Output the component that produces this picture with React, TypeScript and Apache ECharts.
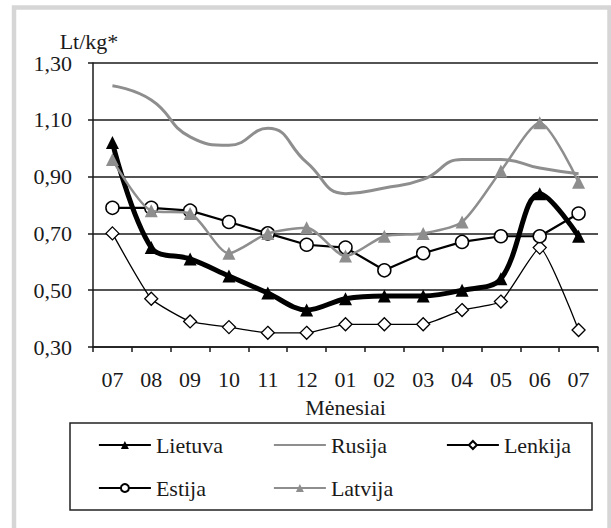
import React, { useEffect, useRef } from "react";
import * as echarts from "echarts";

const months = ["07", "08", "09", "10", "11", "12", "01", "02", "03", "04", "05", "06", "07"];
const yTicks = [0.3, 0.5, 0.7, 0.9, 1.1, 1.3];
const lietuva = [1.02, 0.65, 0.61, 0.55, 0.49, 0.43, 0.47, 0.48, 0.48, 0.5, 0.54, 0.84, 0.69];
const rusija = [1.22, 1.17, 1.04, 1.01, 1.07, 0.95, 0.84, 0.86, 0.89, 0.96, 0.96, 0.93, 0.91];
const lenkija = [0.7, 0.47, 0.39, 0.37, 0.35, 0.35, 0.38, 0.38, 0.38, 0.43, 0.46, 0.65, 0.36];
const estija = [0.79, 0.79, 0.78, 0.74, 0.7, 0.66, 0.65, 0.57, 0.63, 0.67, 0.69, 0.69, 0.77];
const latvija = [0.96, 0.78, 0.77, 0.63, 0.7, 0.72, 0.62, 0.69, 0.7, 0.74, 0.92, 1.09, 0.88];

const FONT = "'Liberation Serif', 'Times New Roman', serif";
const GRAY = "#8e8e8e";
const INK = "#1a1a1a";

export default function App() {
  const ref = useRef<HTMLDivElement>(null);
  useEffect(() => {
    if (!ref.current) return;
    const chart = echarts.init(ref.current, null, { renderer: "svg" });
    const legendText = { fontFamily: FONT, fontSize: 22, color: INK };
    const mkLegend = (item: any, left: number, top: number) => ({
      data: [item],
      left,
      top,
      padding: 0,
      itemWidth: 52,
      itemHeight: 10,
      textStyle: legendText,
      lineStyle: { width: 1.8 },
      selectedMode: false,
    });
    chart.setOption({
      animation: false,
      backgroundColor: "#ffffff",
      textStyle: { fontFamily: FONT },
      grid: { left: 93, right: 13, top: 63, bottom: 181, containLabel: false },
      legend: [
        mkLegend("Lietuva", 98, 434),
        mkLegend({ name: "Rusija", itemStyle: { opacity: 0 } }, 273, 434),
        mkLegend("Lenkija", 446, 434),
        mkLegend("Estija", 98, 477),
        mkLegend("Latvija", 273, 477),
      ],
      graphic: [
        {
          type: "rect",
          shape: { x: 14, y: 7.5, width: 595.5, height: 600 },
          style: { fill: "none", stroke: "#d6d6d6", lineWidth: 4.5 },
          silent: true,
        },
        {
          type: "rect",
          shape: { x: 70, y: 423, width: 522, height: 87 },
          style: { fill: "none", stroke: "#222", lineWidth: 1.5 },
          silent: true,
        },
      ],
      xAxis: {
        type: "category",
        data: months,
        boundaryGap: true,
        name: "Mėnesiai",
        nameLocation: "middle",
        nameGap: 49,
        nameTextStyle: { fontFamily: FONT, fontSize: 22, color: INK },
        axisLine: { lineStyle: { color: INK, width: 1.5 } },
        axisTick: { show: true, length: 5, alignWithLabel: false, lineStyle: { color: INK, width: 1.5 } },
        axisLabel: { fontFamily: FONT, fontSize: 22, color: INK, margin: 21, interval: 0 },
        splitLine: { show: false },
      },
      yAxis: {
        type: "value",
        min: 0.3,
        max: 1.3,
        name: "Lt/kg*",
        nameLocation: "end",
        nameGap: 10,
        nameTextStyle: { fontFamily: FONT, fontSize: 22, color: INK, align: "center", padding: [0, 8, 0, 0] },
        axisLine: { show: true, lineStyle: { color: INK, width: 1.5 } },
        axisTick: { show: true, length: 5, customValues: yTicks, lineStyle: { color: INK, width: 1.5 } },
        axisLabel: {
          fontFamily: FONT,
          fontSize: 22,
          color: INK,
          margin: 21,
          customValues: yTicks,
          formatter: (v: number) => v.toFixed(2).replace(".", ","),
        },
        splitLine: { show: true, lineStyle: { color: INK, width: 1.5 } },
      },
      series: [
        {
          name: "Lietuva",
          type: "line",
          data: lietuva,
          smooth: 0.35,
          symbol: "triangle",
          symbolSize: 13,
          lineStyle: { color: "#000", width: 5 },
          itemStyle: { color: "#000" },
          z: 3,
        },
        {
          name: "Rusija",
          type: "line",
          data: rusija,
          smooth: 0.5,
          symbol: "none",
          lineStyle: { color: GRAY, width: 3 },
          itemStyle: { color: GRAY },
          z: 2,
        },
        {
          name: "Lenkija",
          type: "line",
          data: lenkija,
          smooth: 0.15,
          symbol: "diamond",
          symbolSize: 13,
          lineStyle: { color: "#000", width: 1.3 },
          itemStyle: { color: "#fff", borderColor: "#000", borderWidth: 1.3 },
          z: 4,
        },
        {
          name: "Estija",
          type: "line",
          data: estija,
          symbol: "circle",
          symbolSize: 13,
          lineStyle: { color: "#000", width: 2.2 },
          itemStyle: { color: "#fff", borderColor: "#000", borderWidth: 1.5 },
          z: 5,
        },
        {
          name: "Latvija",
          type: "line",
          data: latvija,
          smooth: 0.25,
          symbol: "triangle",
          symbolSize: 13,
          lineStyle: { color: GRAY, width: 2.5 },
          itemStyle: { color: GRAY },
          z: 6,
        },
      ],
    });
    return () => chart.dispose();
  }, []);
  return (
    <div
      ref={ref}
      style={{ position: "absolute", left: 0, top: 0, width: 611, height: 528 }}
    />
  );
}
